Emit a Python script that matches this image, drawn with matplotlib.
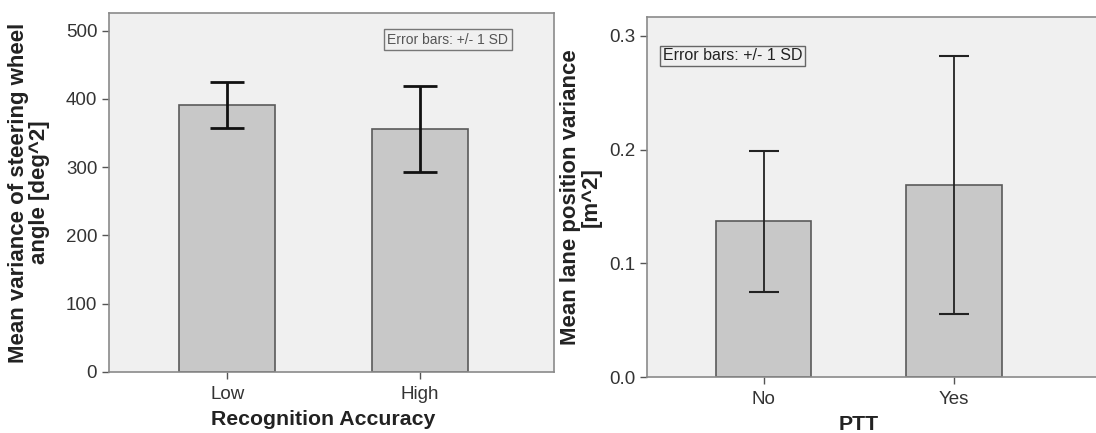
import matplotlib.pyplot as plt
from matplotlib.ticker import FormatStrFormatter

plt.rcParams['font.family'] = ['Liberation Sans', 'DejaVu Sans']

# Steering wheel angle variance by recognition accuracy
accuracy_groups = ['Low', 'High']
steering_mean = [391, 356]
steering_sd = [34, 63]

# Lane position variance by push-to-talk use
ptt_groups = ['No', 'Yes']
lane_mean = [0.137, 0.169]
lane_sd = [0.062, 0.1135]

BG = '#f0f0f0'
BAR = '#c8c8c8'
EDGE = '#5a5a5a'
FRAME = '#8a8a8a'


def style_axes(ax):
    ax.set_facecolor(BG)
    for side in ax.spines.values():
        side.set_color(FRAME)
        side.set_linewidth(1.2)
    ax.tick_params(axis='both', colors='#555555', labelcolor='#333333',
                   labelsize=13.5, length=5, width=1)
    ax.tick_params(axis='x', pad=5)


fig = plt.figure(figsize=(10.96, 4.33), dpi=100)

# left panel
ax1 = fig.add_axes([0.0995, 0.1409, 0.406, 0.8291])
style_axes(ax1)
x1 = list(range(len(accuracy_groups)))
ax1.bar(x1, steering_mean, width=0.5, color=BAR, edgecolor=EDGE, linewidth=1.2, zorder=2)
ax1.errorbar(x1, steering_mean, yerr=steering_sd, fmt='none', ecolor='#111111',
             elinewidth=2, capsize=12.2, capthick=2, zorder=3)
ax1.set_xlim(-0.614, 1.698)
ax1.set_ylim(0, 526)
ax1.set_yticks([0, 100, 200, 300, 400, 500])
ax1.set_xticks(x1)
ax1.set_xticklabels(accuracy_groups)
ax1.set_xlabel('Recognition Accuracy', fontsize=15.3, fontweight='bold', color='#222222')
ax1.xaxis.set_label_coords(0.5, -0.105, transform=ax1.get_xaxis_transform())
ax1.set_ylabel('Mean variance of steering wheel\nangle [deg^2]', fontsize=16,
               fontweight='bold', color='#222222', linespacing=1.0)
ax1.yaxis.set_label_coords(-0.133, 0.5)
ax1.text(0.761, 0.925, 'Error bars: +/- 1 SD', transform=ax1.transAxes, fontsize=10,
         color='#555555', ha='center', va='center',
         bbox=dict(boxstyle='square,pad=0.25', facecolor=BG, edgecolor='#777777', linewidth=1))

# right panel, runs off the right edge
ax2 = fig.add_axes([0.5903, 0.1293, 0.4133, 0.8314])
style_axes(ax2)
x2 = list(range(len(ptt_groups)))
ax2.bar(x2, lane_mean, width=0.5, color=BAR, edgecolor=EDGE, linewidth=1.2, zorder=2)
ax2.errorbar(x2, lane_mean, yerr=lane_sd, fmt='none', ecolor='#222222',
             elinewidth=1.3, capsize=11, capthick=1.5, zorder=3)
ax2.set_xlim(-0.612, 1.766)
ax2.set_ylim(0, 0.3167)
ax2.set_yticks([0.0, 0.1, 0.2, 0.3])
ax2.yaxis.set_major_formatter(FormatStrFormatter('%.1f'))
ax2.set_xticks(x2)
ax2.set_xticklabels(ptt_groups)
ax2.set_xlabel('PTT', fontsize=15.3, fontweight='bold', color='#222222')
ax2.xaxis.set_label_coords(0.5, -0.105, transform=ax2.get_xaxis_transform())
ax2.set_ylabel('Mean lane position variance\n[m^2]', fontsize=16,
               fontweight='bold', color='#222222', linespacing=1.0)
ax2.yaxis.set_label_coords(-0.099, 0.5)
ax2.text(0.189, 0.892, 'Error bars: +/- 1 SD', transform=ax2.transAxes, fontsize=11.5,
         color='#222222', ha='center', va='center',
         bbox=dict(boxstyle='square,pad=0.15', facecolor=BG, edgecolor='#666666', linewidth=1))

fig.savefig('out.png', dpi=100, facecolor='white')
